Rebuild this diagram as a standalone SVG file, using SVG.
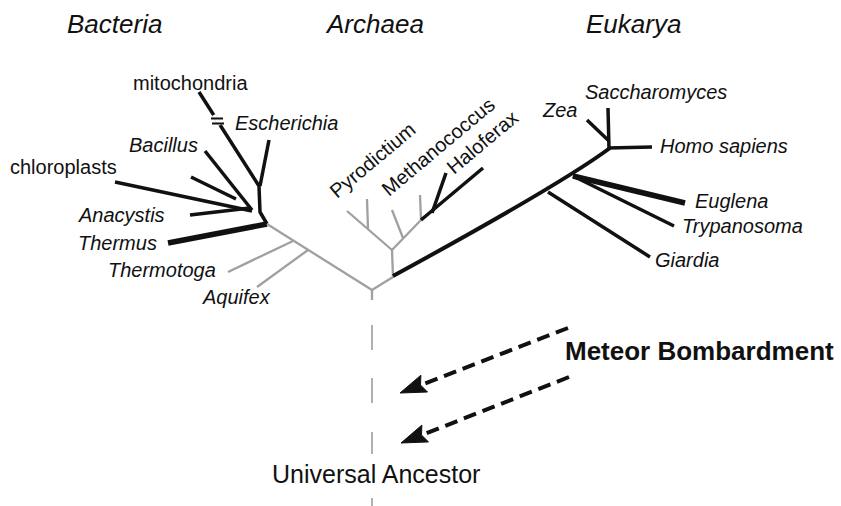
<svg xmlns="http://www.w3.org/2000/svg" width="841" height="506" viewBox="0 0 841 506">
<style>
text{font-family:"Liberation Sans",Arial,sans-serif;fill:#111;}
.hd{font-size:26px;font-style:italic;}
.sp{font-size:20px;font-style:italic;}
.nm{font-size:20px;}
.b{stroke:#111;stroke-width:3.5;fill:none;stroke-linecap:butt;stroke-linejoin:round;}
.bt{stroke:#111;stroke-width:5.5;fill:none;}
.g{stroke:#a0a0a0;stroke-width:2.3;fill:none;stroke-linejoin:round;}
.gd{stroke:#a8a8a8;stroke-width:1.8;fill:none;}
.ar{stroke:#111;stroke-width:4;fill:none;stroke-dasharray:13 7;}
.head{fill:#111;stroke:#111;stroke-width:1;stroke-linejoin:miter;}
</style>
<rect width="841" height="506" fill="#fff"/>
<g id="connectors">
<g id="bacteria-branches">
<path class="b" d="M199,92 L259,186 L260,212 L267,224"/>
<path class="b" d="M269,140 L260,186"/>
<path class="b" d="M205,151 L252,210"/>
<path class="b" d="M191,177 L236,199"/>
<path class="b" d="M115,182 L252,211"/>
<path class="b" d="M190,215 L250,208"/>
<path class="bt" d="M168,243 L267,224"/>
<rect x="211" y="118" width="12" height="4" fill="#fff" transform="rotate(57 217 120)"/>
<path stroke="#111" stroke-width="1.8" d="M211,118.5 L223,118.5 M212,123.5 L224,123.5"/>
</g>
<g id="gray-branches">
<path class="g" d="M267,224 L372,290 L393,277 L392,250 L347,211"/>
<path class="g" d="M228,272 L293,241"/>
<path class="g" d="M257,287 L308,250"/>
<path class="g" d="M367,199 L368,229"/>
<path class="g" d="M392,250 L421,220 L420,195"/>
<path class="g" d="M392,210 L403,238"/>
<path class="g" d="M372,290 L372,300"/>
</g>
<g id="archaea-black">
<path class="b" d="M421,220 L483,168"/>
<path class="b" d="M432,213 L446,173"/>
</g>
<g id="eukarya-branches">
<path class="b" style="stroke-width:4" d="M393,276 Q560,185 610,148"/>
<path class="b" d="M548,192 L650,257"/>
<path class="bt" d="M573,176 L685,203"/>
<path class="b" d="M573,176 L674,226"/>
<path class="b" d="M608,148 L652,147"/>
<path class="b" d="M608,108 L609,149"/>
<path class="b" d="M587,120 L609,141"/>
</g>
<g id="ancestor-line">
<path class="gd" d="M372,325 L372,350 M372,378 L372,403 M372,432 L372,454 M372,498 L372,506"/>
</g>
<g id="meteor-arrows">
<path class="ar" d="M568,328 L421,385"/>
<polygon class="head" points="400,393 427.5,392 420.5,385 420.9,375.2"/>
<path class="ar" d="M569,377 L422,435"/>
<polygon class="head" points="401,443 428.5,441.9 421.5,435 421.9,425.1"/>
</g>
</g>
<g id="headers">
<text id="bacteria" class="hd" x="67" y="33">Bacteria</text>
<text id="archaea" class="hd" x="327" y="33">Archaea</text>
<text id="eukarya" class="hd" x="586" y="33">Eukarya</text>
</g>
<g id="node-mitochondria"><text class="nm" x="133" y="90">mitochondria</text></g>
<g id="node-escherichia"><text class="sp" x="235" y="130">Escherichia</text></g>
<g id="node-bacillus"><text class="sp" x="129" y="152">Bacillus</text></g>
<g id="node-chloroplasts"><text class="nm" x="10" y="174">chloroplasts</text></g>
<g id="node-anacystis"><text class="sp" x="79" y="222">Anacystis</text></g>
<g id="node-thermus"><text class="sp" x="78" y="250">Thermus</text></g>
<g id="node-thermotoga"><text class="sp" x="108" y="277">Thermotoga</text></g>
<g id="node-aquifex"><text class="sp" x="203" y="304">Aquifex</text></g>
<g id="node-pyrodictium"><text class="nm" transform="translate(337,199) rotate(-40)">Pyrodictium</text></g>
<g id="node-methanococcus"><text class="nm" transform="translate(389,197) rotate(-40)">Methanococcus</text></g>
<g id="node-haloferax"><text class="nm" transform="translate(454,175) rotate(-40)">Haloferax</text></g>
<g id="node-zea"><text class="sp" x="543" y="117">Zea</text></g>
<g id="node-saccharomyces"><text class="sp" x="585" y="99">Saccharomyces</text></g>
<g id="node-homo"><text class="sp" x="660" y="153">Homo sapiens</text></g>
<g id="node-euglena"><text class="sp" x="695" y="208">Euglena</text></g>
<g id="node-trypanosoma"><text class="sp" x="682" y="233">Trypanosoma</text></g>
<g id="node-giardia"><text class="sp" x="655" y="267">Giardia</text></g>
<g id="node-meteor"><text x="565" y="360" style="font-size:26px;font-weight:bold">Meteor Bombardment</text></g>
<g id="node-ancestor"><text x="272" y="483" style="font-size:25px">Universal Ancestor</text></g>
</svg>
